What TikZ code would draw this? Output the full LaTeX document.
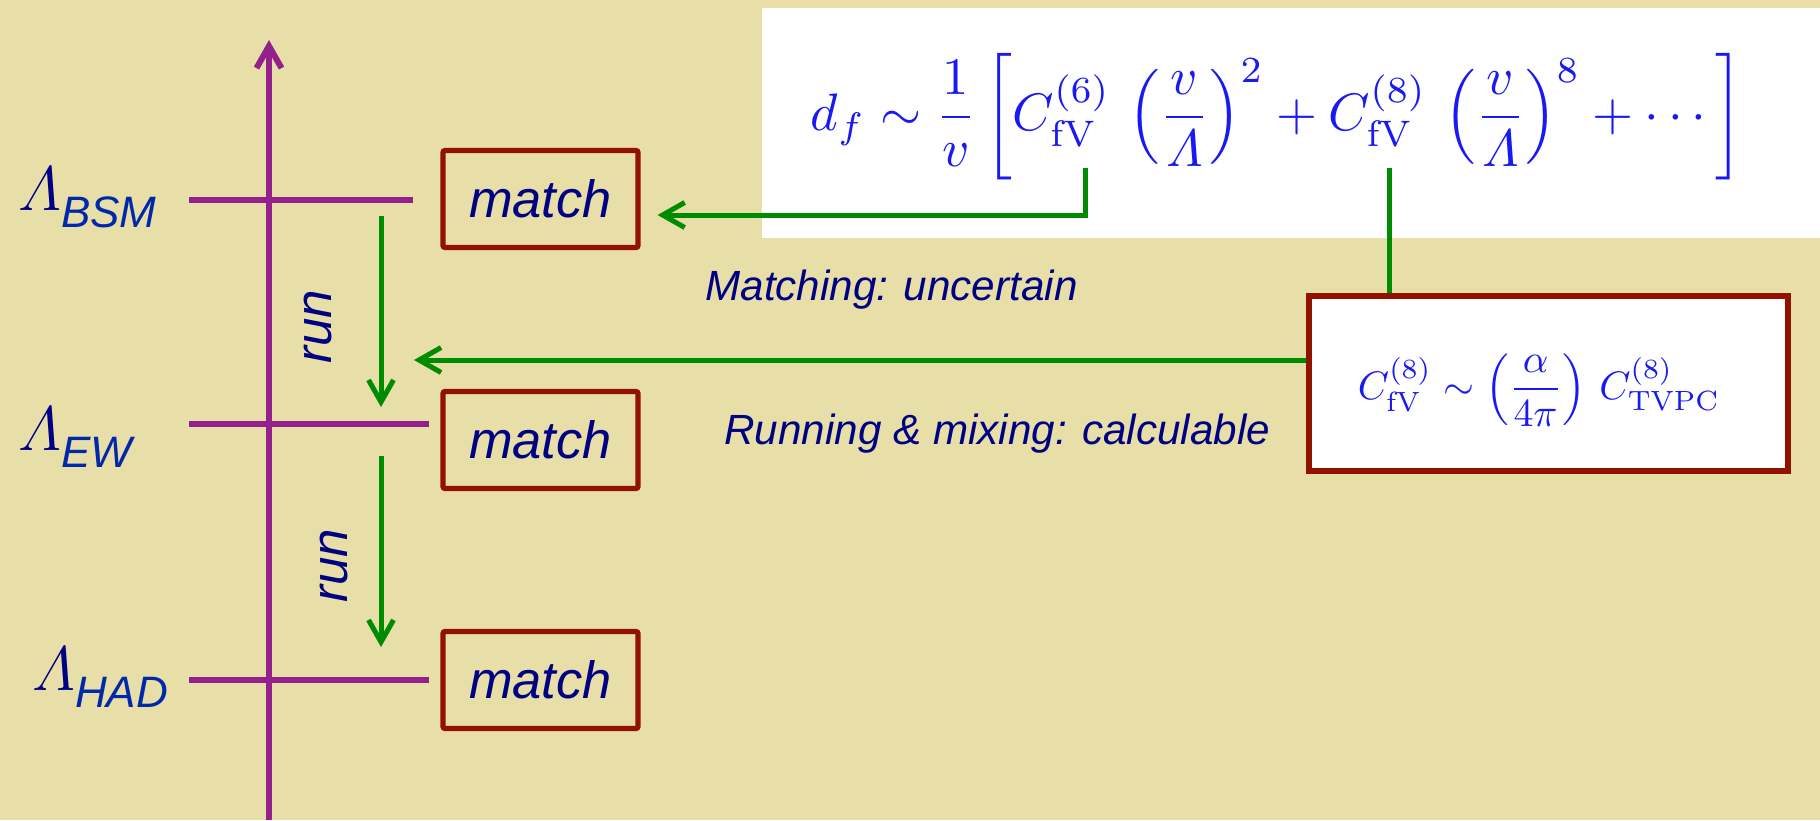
\documentclass[tikz,border=0pt]{standalone}
\usepackage{fix-cm}
\usepackage{amsmath}
\usepackage{graphicx}
\usepackage[no-math]{fontspec}
\newfontfamily\arialfont{Liberation Sans}
\usetikzlibrary{arrows.meta}
\definecolor{bg}{RGB}{232,222,168}
\definecolor{axpurple}{RGB}{148,32,140}
\definecolor{rungreen}{RGB}{0,140,0}
\definecolor{boxred}{RGB}{146,18,0}
\definecolor{navy}{RGB}{0,0,130}
\definecolor{subblue}{RGB}{0,40,170}
\definecolor{formblue}{RGB}{25,25,245}
\newcommand{\scalelabel}[2]{{\fontsize{31.5pt}{34pt}\selectfont\color{navy}$\varLambda$}\raisebox{-8.5pt}{\fontsize{22pt}{24pt}\selectfont\arialfont\itshape\color{subblue}#1}#2}
\begin{document}
\begin{tikzpicture}[x=0.5pt,y=-0.5pt,
  axisline/.style={draw=axpurple,line width=3pt},
  axisarrow/.style={axisline,-{Straight Barb[length=11pt,width=12.5pt]}},
  greenline/.style={draw=rungreen,line width=2.5pt},
  greenarrow/.style={greenline,-{Straight Barb[length=11pt,width=12.5pt]}},
  matchbox/.style={draw=boxred,line width=2.6pt,rounded corners=1pt,minimum width=97.5pt,minimum height=48.5pt,inner sep=0pt,font=\fontsize{26.2pt}{30pt}\selectfont\arialfont\itshape,text=navy},
  runlabel/.style={rotate=90,inner sep=0pt,font=\fontsize{25.5pt}{28pt}\selectfont\arialfont\itshape,text=navy},
  note/.style={anchor=base west,inner sep=0pt,font=\fontsize{21.1pt}{24pt}\selectfont\arialfont\itshape,text=navy},
  scalename/.style={anchor=base west,inner sep=0pt}
]
\useasboundingbox (0,0) rectangle (1820,820);
\fill[bg] (0,0) rectangle (1820,820);
\fill[white] (762,8) rectangle (1820,238);

% formula
\node[text=formblue,inner sep=0pt] (dform) at (1277,117)
  {\resizebox{466pt}{!}{$\displaystyle d_f\sim\frac{1}{v}\left[C^{(6)}_{\mathrm{fV}}\,\left(\frac{v}{\varLambda}\right)^{2}+C^{(8)}_{\mathrm{fV}}\,\left(\frac{v}{\varLambda}\right)^{8}+\cdots\right]$}};
\coordinate (c6) at (1085,168);
\coordinate (c8) at (1389,168);

% axis
\coordinate (axbot) at (269,820);
\coordinate (axtop) at (269,40);
\draw[axisarrow] (axbot) -- (axtop);

% ticks
\coordinate (tbsmL) at (189,200); \coordinate (tbsmR) at (413,200);
\coordinate (tewL) at (189,424);  \coordinate (tewR) at (429,424);
\coordinate (thadL) at (189,680); \coordinate (thadR) at (429,680);
\draw[axisline] (tbsmL) -- (tbsmR);
\draw[axisline] (tewL) -- (tewR);
\draw[axisline] (thadL) -- (thadR);

% scale labels
\node[scalename] (lbsm) at (18,210) {\scalelabel{BSM}{}};
\node[scalename] (lew) at (18,450) {\scalelabel{EW}{}};
\node[scalename] (lhad) at (32,690) {\scalelabel{HAD}{}};

% match boxes
\node[matchbox] (mbsm) at (540.5,199) {match};
\node[matchbox] (mew) at (540.5,440) {match};
\node[matchbox] (mhad) at (540.5,680) {match};

% run arrows
\coordinate (r1s) at (381,216); \coordinate (r1e) at (381,407);
\coordinate (r2s) at (381,456); \coordinate (r2e) at (381,647);
\draw[greenarrow] (r1s) -- (r1e);
\draw[greenarrow] (r2s) -- (r2e);
\node[runlabel] (run1) at (318,327) {run};
\node[runlabel] (run2) at (334,566) {run};

% C8 box
\node[draw=boxred,fill=white,line width=2.6pt,minimum width=239.5pt,minimum height=87.5pt,inner sep=0pt] (c8box) at (1548.5,383.5) {};
\node[text=formblue,inner sep=0pt] (c8form) at (1539,390)
  {\resizebox{181pt}{!}{$\displaystyle C^{(8)}_{\mathrm{fV}}\sim\left(\frac{\alpha}{4\pi}\right)\,C^{(8)}_{\mathrm{TVPC}}$}};

% connectors
\draw[greenarrow] (c6) |- ([xshift=8.5pt,yshift=-8pt]mbsm.east);
\draw[greenline] (c8) -- (c8 |- c8box.north);
\coordinate (mixtip) at (414,360);
\draw[greenarrow] (c8box.west |- mixtip) -- (mixtip);

% notes
\node[note] (nmatch) at (705,300) {Matching: uncertain};
\node[note] (nrun) at (724,444) {Running \& mixing: calculable};
\end{tikzpicture}
\end{document}
